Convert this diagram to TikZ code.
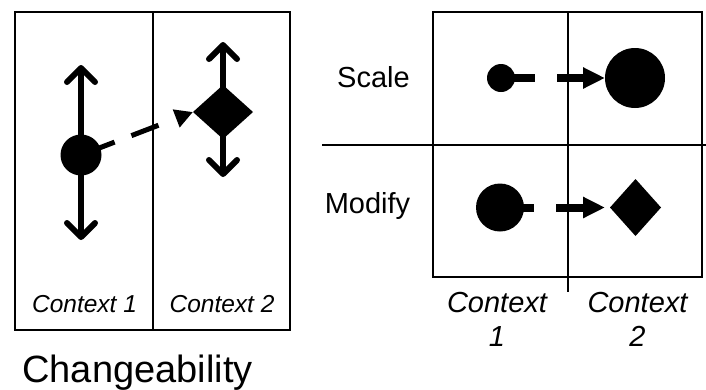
\documentclass[tikz,border=0pt]{standalone}
\usepackage{fontspec}
\setmainfont{Liberation Sans}
\usetikzlibrary{arrows.meta,shapes.geometric}

\begin{document}
\begin{tikzpicture}[x=1pt,y=-1pt,
  frame/.style={line width=2.7pt},
  dot/.style={circle,fill=black,draw=none,inner sep=0pt,outer sep=0pt,minimum size=#1},
  gem/.style 2 args={diamond,fill=black,draw=none,inner sep=0pt,outer sep=0pt,minimum width=#1,minimum height=#2},
  updown/.style={line width=6pt,-{Straight Barb[length=14pt,width=28pt,round]}},
  flowleft/.style={line width=5pt,dash pattern=on 36pt off 18pt on 29pt off 40pt,
    -{Triangle[length=18pt,width=18pt]}},
  flowright/.style={line width=8pt,dash pattern=on 34pt off 22pt on 60pt,
    -{Triangle[length=22pt,width=20pt]}},
  ctxsmall/.style={font=\fontsize{24.5}{29}\selectfont\itshape,inner sep=0pt,anchor=base},
  ctxbig/.style={font=\fontsize{29}{34}\selectfont\itshape,inner sep=0pt,anchor=north,align=center},
  rowlab/.style={font=\fontsize{29}{34}\selectfont,inner sep=0pt,anchor=base},
  heading/.style={font=\fontsize{38}{44}\selectfont,inner sep=0pt,anchor=base}
]
\useasboundingbox (0,0) rectangle (706,389);

% ---------- Changeability panel ----------
\draw[frame] (15,12) rectangle (290,330);
\draw[frame] (153,12) -- (153,330);

\node[dot=41pt] (c1) at (81,155) {};
\node[gem={60pt}{54pt}] (d1) at (223,112) {};
\coordinate (c1up) at (81,65);
\coordinate (c1down) at (81,240);
\coordinate (d1up) at (223,42);
\coordinate (d1down) at (223,177);

\draw[updown] (c1.center) -- (c1up);
\draw[updown] (c1.center) -- (c1down);
\draw[updown] (d1.center) -- (d1up);
\draw[updown] (d1.center) -- (d1down);
\draw[flowleft] (c1.center) -- (d1.west);

\node[ctxsmall] (l1) at (84.5,312) {Context 1};
\node[ctxsmall] (l2) at (222,312) {Context 2};
\node[heading] (title) at (137.5,382) {Changeability};

% ---------- Scale / Modify grid ----------
\draw[frame] (433,12) rectangle (702,277);
\draw[frame] (322,145) -- (706,145);
\draw[frame] (568,12) -- (568,292);

\node[rowlab] (scale) at (373.5,87) {Scale};
\node[rowlab] (modify) at (367.5,213) {Modify};

\node[dot=28pt] (s1) at (501,78) {};
\node[dot=60pt] (s2) at (635,78) {};
\node[dot=48pt] (m1) at (500,207.5) {};
\node[gem={51pt}{57pt}] (m2) at (635.5,207.5) {};

\draw[flowright] (s1.center) -- (s2.west);
\draw[flowright,shorten >=5pt] (m1.center) -- (m2.west);

\node[ctxbig] (r1) at (497,292) {Context\\1};
\node[ctxbig] (r2) at (637.5,292) {Context\\2};
\end{tikzpicture}
\end{document}
